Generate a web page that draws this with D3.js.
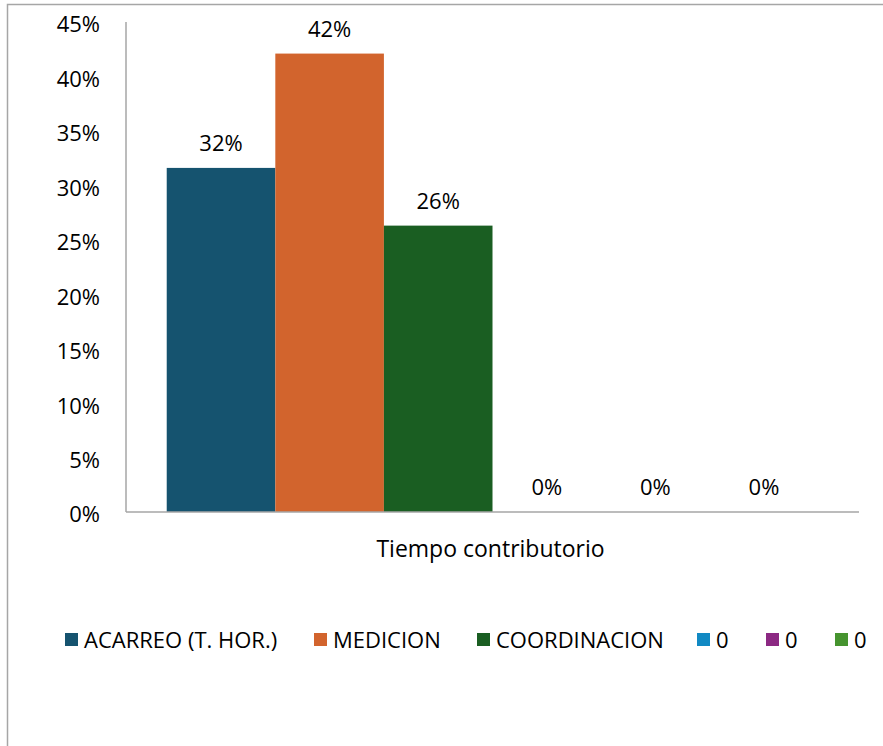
<!DOCTYPE html>
<html>
<head>
<meta charset="utf-8">
<script src="https://cdn.jsdelivr.net/npm/d3@7"></script>
<style>
  html, body { margin: 0; padding: 0; background: #fff; }
  svg { display: block; }
  text { font-family: "Open Sans", "Liberation Sans", sans-serif; fill: #000; }
</style>
</head>
<body>
<svg id="chart" width="883" height="746"></svg>
<script>
// Category on the x axis
const categories = ["Tiempo contributorio"];
// Series names (legend order) and their colours
const seriesNames = ["ACARREO (T. HOR.)", "MEDICION", "COORDINACION", "0", "0", "0"];
const seriesColors = ["#15536f", "#d2642d", "#1a5e22", "#1189c3", "#8c2983", "#46942f"];
// Share of time per series for the single category
const seriesValues = [0.316, 0.421, 0.263, 0, 0, 0];
// Y axis ticks
const yTicks = [0, 0.05, 0.10, 0.15, 0.20, 0.25, 0.30, 0.35, 0.40, 0.45];

const svg = d3.select("#chart");

// Chart frame (continues past the right and bottom edges)
svg.append("rect")
  .attr("x", 7.5).attr("y", 4.5)
  .attr("width", 900).attr("height", 760)
  .attr("fill", "#fff").attr("stroke", "#a6a6a6").attr("stroke-width", 1.5);

const plot = { left: 126, right: 859, top: 22, bottom: 512 };

const y = d3.scaleLinear().domain([0, 0.45]).range([plot.bottom, plot.top]);
const x0 = d3.scaleBand().domain(categories).range([plot.left, plot.right]).padding(0);
const x1 = d3.scaleBand()
  .domain(d3.range(seriesNames.length))
  .range([0, x0.bandwidth()])
  .paddingInner(0)
  .paddingOuter(0.375);

const pct = d3.format(".0%");

// Y axis labels
const yAxis = d3.axisLeft(y).tickValues(yTicks).tickFormat(pct).tickSize(0).tickPadding(26);
const gy = svg.append("g").attr("transform", `translate(${plot.left},0)`).call(yAxis);
gy.select(".domain").remove();
gy.selectAll("text")
  .style("font-family", "'Open Sans', sans-serif")
  .style("font-size", "22px")
  .attr("dy", "0.45em")
  .attr("fill", "#000");

// Bars
const cat = svg.append("g").attr("transform", `translate(${x0(categories[0])},0)`);
const rows = seriesValues.map((v, i) => ({ i, v }));
cat.selectAll("rect.bar").data(rows).join("rect")
  .attr("class", "bar")
  .attr("x", d => x1(d.i))
  .attr("width", x1.bandwidth())
  .attr("y", d => y(d.v))
  .attr("height", d => y(0) - y(d.v))
  .attr("fill", d => seriesColors[d.i]);

// Value labels
cat.selectAll("text.lbl").data(rows).join("text")
  .attr("class", "lbl")
  .attr("x", d => x1(d.i) + x1.bandwidth() / 2)
  .attr("y", d => y(d.v) - 17)
  .attr("text-anchor", "middle")
  .style("font-size", "22px")
  .text(d => pct(d.v));

// Axis lines
svg.append("line")
  .attr("x1", plot.left).attr("x2", plot.left)
  .attr("y1", plot.top).attr("y2", plot.bottom)
  .attr("stroke", "#a6a6a6").attr("stroke-width", 1.5);
svg.append("line")
  .attr("x1", plot.left).attr("x2", plot.right)
  .attr("y1", plot.bottom).attr("y2", plot.bottom)
  .attr("stroke", "#a6a6a6").attr("stroke-width", 1.5);

// Category label
svg.append("text")
  .attr("x", x0(categories[0]) + x0.bandwidth() / 2 - 2)
  .attr("y", 557)
  .attr("text-anchor", "middle")
  .style("font-size", "23px")
  .text(categories[0]);

// Legend
const legendX = [65, 314, 477, 697, 766, 835];
const lg = svg.append("g");
const items = lg.selectAll("g").data(seriesNames).join("g")
  .attr("transform", (d, i) => `translate(${legendX[i]},633)`);
items.append("rect")
  .attr("width", 13).attr("height", 13)
  .attr("fill", (d, i) => seriesColors[i]);
items.append("text")
  .attr("x", 19).attr("y", 14.5)
  .style("font-size", "22px")
  .text(d => d);
</script>
</body>
</html>
